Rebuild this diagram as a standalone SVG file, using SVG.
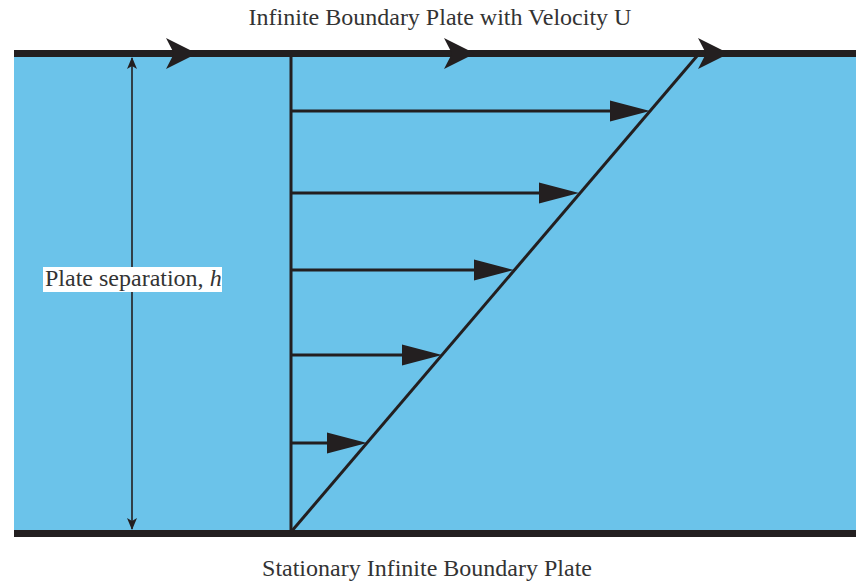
<svg xmlns="http://www.w3.org/2000/svg" width="856" height="582" viewBox="0 0 856 582">
<defs>
<style>
.plate{stroke:#231f20;stroke-width:7;fill:none}
.ln{stroke:#231f20;stroke-width:3;fill:none}
.dim{stroke:#231f20;stroke-width:1.6;fill:none}
.head{fill:#231f20}
.t{font-family:"Liberation Serif","Times New Roman",serif;font-size:24px;fill:#333}
</style>
<marker id="dimhead" viewBox="0 0 12 10" refX="11" refY="5" markerWidth="12" markerHeight="10" markerUnits="userSpaceOnUse" orient="auto-start-reverse">
<path d="M0,0 L12,5 L0,10 L3,5 Z" fill="#231f20"/>
</marker>
</defs>
<rect x="14" y="54" width="842" height="480" fill="#6BC3EA"/>
<g id="top-plate">
<line class="plate" x1="14" y1="53.5" x2="856" y2="53.5"/>
<path class="head" d="M197,53.5 L166,38 L174,53.5 L166,69 Z"/>
<path class="head" d="M475,53.5 L444,38 L452,53.5 L444,69 Z"/>
<path class="head" d="M729,53.5 L698,38 L706,53.5 L698,69 Z"/>
</g>
<g id="bottom-plate">
<line class="plate" x1="14" y1="533.5" x2="856" y2="533.5"/>
</g>
<g id="separation">
<line class="dim" x1="132" y1="58" x2="132" y2="529" marker-start="url(#dimhead)" marker-end="url(#dimhead)"/>
<rect x="43" y="267" width="179" height="25" fill="#fff"/>
<text class="t" x="45" y="286" font-size="23">Plate separation, <tspan font-style="italic">h</tspan></text>
</g>
<g id="connectors">
<line class="ln" x1="291" y1="57" x2="291" y2="531"/>
<line class="ln" x1="291" y1="532" x2="697" y2="56"/>
<line class="ln" x1="291" y1="111" x2="612" y2="111"/>
<path class="head" d="M650,111 L610,100.5 L610,121.5 Z"/>
<line class="ln" x1="291" y1="193" x2="542" y2="193"/>
<path class="head" d="M579,193 L539,182.5 L539,203.5 Z"/>
<line class="ln" x1="291" y1="270" x2="476" y2="270"/>
<path class="head" d="M514,270 L474,259.5 L474,280.5 Z"/>
<line class="ln" x1="291" y1="355" x2="404" y2="355"/>
<path class="head" d="M442,355 L402,344.5 L402,365.5 Z"/>
<line class="ln" x1="291" y1="443" x2="329" y2="443"/>
<path class="head" d="M367,443 L327,432.5 L327,453.5 Z"/>
</g>
<text class="t" x="440" y="25" text-anchor="middle">Infinite Boundary Plate with Velocity U</text>
<text class="t" x="427" y="576" text-anchor="middle">Stationary Infinite Boundary Plate</text>
</svg>
